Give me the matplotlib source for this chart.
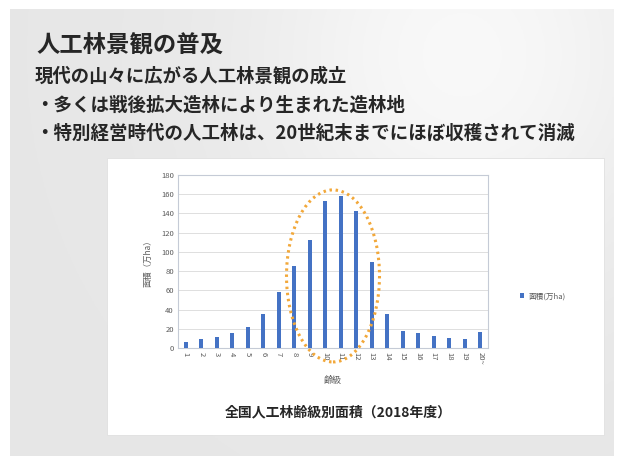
import numpy as np
import matplotlib
matplotlib.use("Agg")
import matplotlib.pyplot as plt
from matplotlib.patches import Rectangle, Ellipse

plt.rcParams['font.family'] = ['Noto Sans CJK JP', 'DejaVu Sans']

# data: 全国人工林齢級別面積 (2018年度)
age_classes = ['1', '2', '3', '4', '5', '6', '7', '8', '9', '10',
               '11', '12', '13', '14', '15', '16', '17', '18', '19', '20~']
area = [6, 9, 11, 16, 22, 35, 58, 85, 112, 153,
        158, 143, 90, 35, 18, 16, 13, 10, 9, 17]
highlight = (7, 12)  # 8〜13齢級を囲む

W, H = 622, 463
fig = plt.figure(figsize=(W / 100, H / 100), dpi=100)
fig.patch.set_facecolor('white')


def fx(x):
    return x / W


def fy(y):
    return 1 - y / H


# slide background with a soft gradient
bg = fig.add_axes([fx(10), fy(456), fx(604), (456 - 9) / H])
gx = np.linspace(0, 1, 200)
gy = np.linspace(0, 1, 150)
X, Y = np.meshgrid(gx, gy)
shade = 0.905 + 0.07 * np.exp(-((X - 0.75) ** 2 / 0.12 + (Y - 0.1) ** 2 / 0.25))
bg.imshow(np.dstack([shade, shade, shade]), aspect='auto', extent=(0, 1, 0, 1))
bg.axis('off')

# white panel for the chart
fig.patches.append(Rectangle((fx(107), fy(435)), fx(604 - 107), (435 - 158) / H,
                             transform=fig.transFigure, facecolor='white',
                             edgecolor='#e0e0e0', lw=0.6, zorder=1))

# slide texts
fig.text(fx(36), fy(46), '人工林景観の普及', fontsize=16.8, fontweight='bold',
         color='#262626', va='center')
fig.text(fx(35), fy(76), '現代の山々に広がる人工林景観の成立', fontsize=13.2,
         fontweight='bold', color='#262626', va='center')
fig.text(fx(35), fy(105), '・多くは戦後拡大造林により生まれた造林地', fontsize=13.3,
         fontweight='bold', color='#262626', va='center')
fig.text(fx(35), fy(133), '・特別経営時代の人工林は、20世紀末までにほぼ収穫されて消滅',
         fontsize=13.3, fontweight='bold', color='#262626', va='center')

# bar chart
ax = fig.add_axes([fx(178), fy(348), fx(488 - 178), (348 - 175) / H])
ax.set_zorder(2)
x = np.arange(len(age_classes))
ax.bar(x, area, width=0.28, color='#4472C4', zorder=3, label='面積(万ha)')
ax.set_xlim(-0.5, len(age_classes) - 0.5)
ax.set_ylim(0, 180)
ax.set_yticks(range(0, 181, 20))
ax.set_xticks(x)
ax.set_xticklabels(age_classes, rotation=270)
ax.tick_params(axis='both', length=0, labelsize=5.5, colors='#595959', pad=3)
ax.grid(axis='y', color='#d9d9d9', lw=0.6, zorder=0)
for s in ax.spines.values():
    s.set_color('#c5cbd6')
    s.set_linewidth(0.8)
ax.set_ylabel('面積（万ha）', fontsize=6, color='#595959', labelpad=6)
ax.set_xlabel('齢級', fontsize=6.5, color='#595959', labelpad=8)

lo, hi = highlight
cx = (lo + hi) / 2
ell = Ellipse((cx, 75), width=hi - lo + 1.0, height=179, fill=False,
              edgecolor='#f2a83a', lw=2.2, ls=(0, (0.8, 1.2)), clip_on=False, zorder=4)
ax.add_patch(ell)

ax.legend(loc='center left', bbox_to_anchor=(1.08, 0.3), frameon=False,
          fontsize=5.5, handlelength=0.6, handleheight=0.6, handletextpad=0.5,
          labelcolor='#595959')

fig.text(fx(338), fy(412), '全国人工林齢級別面積（2018年度）', fontsize=10,
         fontweight='bold', color='#262626', ha='center', va='center')

fig.savefig('out.png', dpi=100)
